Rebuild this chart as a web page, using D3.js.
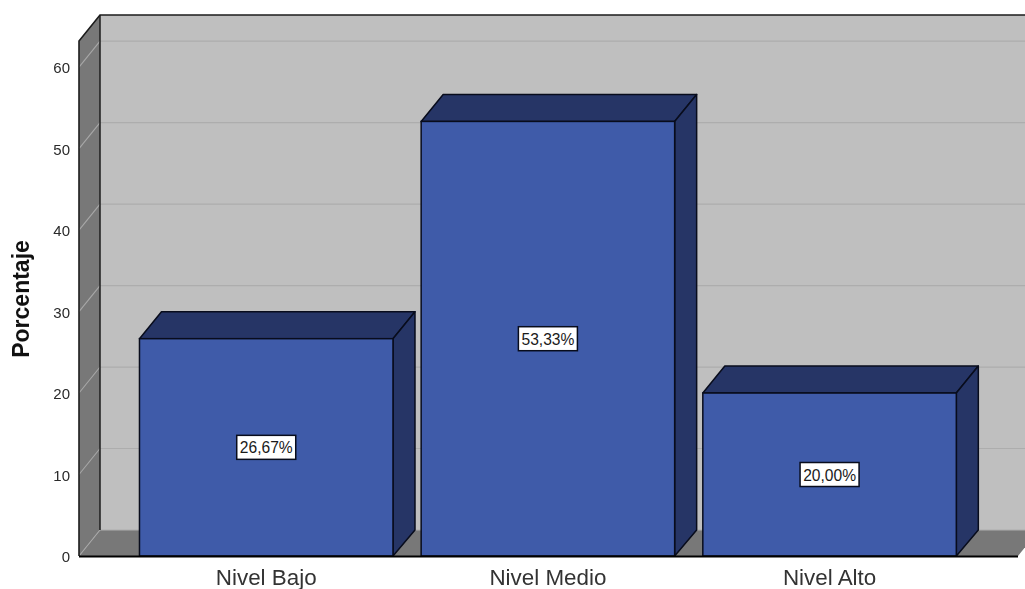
<!DOCTYPE html>
<html><head><meta charset="utf-8">
<script src="https://cdn.jsdelivr.net/npm/d3@7"></script>
<style>html,body{margin:0;padding:0;background:#fff;overflow:hidden}svg{display:block;filter:blur(0.45px)}text{font-family:"Liberation Sans",Arial,sans-serif}</style>
</head><body><svg id="c" width="1025" height="589"></svg>
<script>
const categories = ["Nivel Bajo","Nivel Medio","Nivel Alto"];
const values = [26.67,53.33,20.00];
const valueLabels = ["26,67%","53,33%","20,00%"];
const yTicks = [0,10,20,30,40,50,60];
const yTitle = "Porcentaje";

const W=1025,dx=21,dy=-26,bdx=22,bdy=-27,y0=556,yTop=41,xL=79,xR=1018;
const svg=d3.select("#c");
const y=d3.scaleLinear().domain([0,63.2]).range([y0,yTop]);
const x=d3.scaleBand().domain(categories).range([125.4,970.4]).paddingInner(0.1).paddingOuter(0.05);
const line=d3.line();
const poly=(g,pts,fill)=>g.append("path").attr("d",line(pts)+"Z").attr("fill",fill);

const walls=svg.append("g");
poly(walls,[[xL+dx,yTop+dy],[xR+dx+40,yTop+dy],[xR+dx+40,y0+dy],[xL+dx,y0+dy]],"#bfbfbf");
poly(walls,[[xL,yTop],[xL+dx,yTop+dy],[xL+dx,y0+dy],[xL,y0]],"#787878");
poly(walls,[[xL,y0],[xL+dx,y0+dy],[xR+dx,y0+dy],[xR,y0]],"#787878");

const grid=svg.append("g");
grid.selectAll("line.b").data(yTicks).join("line").attr("class","b")
  .attr("x1",xL+dx).attr("x2",W).attr("y1",d=>y(d)+dy).attr("y2",d=>y(d)+dy)
  .attr("stroke","#adadad").attr("stroke-width",1.2);
grid.selectAll("line.s").data(yTicks).join("line").attr("class","s")
  .attr("x1",xL).attr("x2",xL+dx).attr("y1",d=>y(d)).attr("y2",d=>y(d)+dy)
  .attr("stroke","#a8a8a8").attr("stroke-width",1.1);

const fr=svg.append("g").attr("fill","none").attr("stroke","#1c1c1c");
fr.append("path").attr("d",line([[W,yTop+dy],[xL+dx,yTop+dy],[xL,yTop],[xL,y0]])).attr("stroke-width",1.6);
fr.append("path").attr("d",line([[xL+dx,yTop+dy],[xL+dx,y0+dy]])).attr("stroke-width",1.5);

const rows=categories.map((c,i)=>({c,v:values[i],l:valueLabels[i]}));
const bars=svg.append("g").selectAll("g").data(rows).join("g");
const bw=x.bandwidth();
const edge="#080c1c";
bars.append("path").attr("d",d=>{const a=x(d.c),t=y(d.v);return line([[a,t],[a+bdx,t+bdy],[a+bw+bdx,t+bdy],[a+bw,t]])+"Z";})
  .attr("fill","#263566").attr("stroke",edge).attr("stroke-width",1.5).attr("stroke-linejoin","round");
bars.append("path").attr("d",d=>{const a=x(d.c)+bw,t=y(d.v);return line([[a,t],[a+bdx,t+bdy],[a+bdx,y0+dy],[a,y0]])+"Z";})
  .attr("fill","#263566").attr("stroke",edge).attr("stroke-width",1.5).attr("stroke-linejoin","round");
bars.append("rect").attr("x",d=>x(d.c)).attr("y",d=>y(d.v)).attr("width",bw).attr("height",d=>y0-y(d.v))
  .attr("fill","#3f5ba9").attr("stroke",edge).attr("stroke-width",1.5);

svg.append("line").attr("x1",xL).attr("x2",xR).attr("y1",y0+0.5).attr("y2",y0+0.5).attr("stroke","#000").attr("stroke-width",2.2);

const lab=bars.append("g").attr("transform",d=>`translate(${x(d.c)+bw/2},${(y(d.v)+y0)/2})`);
lab.append("rect").attr("x",-29.5).attr("y",-12).attr("width",59).attr("height",24).attr("fill","#fff").attr("stroke",edge).attr("stroke-width",1.5);
lab.append("text").attr("text-anchor","middle").attr("y",6).attr("font-size",15.6).attr("fill","#1a1a1a").text(d=>d.l);

const ya=d3.axisLeft(y).tickValues(yTicks).tickSize(0).tickPadding(9);
const yg=svg.append("g").attr("transform",`translate(${xL},0.7)`).call(ya);
yg.select(".domain").remove();
yg.selectAll("text").attr("font-size",15).attr("fill","#2a2a2a").style("font-family",'"Liberation Sans",Arial,sans-serif');

const xa=d3.axisBottom(x).tickSize(0).tickPadding(13.5);
const xg=svg.append("g").attr("transform",`translate(0,${y0})`).call(xa);
xg.select(".domain").remove();
xg.selectAll("text").attr("font-size",22.4).attr("fill","#333").style("font-family",'"Liberation Sans",Arial,sans-serif');

svg.append("text").attr("transform","translate(29,299) rotate(-90)").attr("text-anchor","middle")
  .attr("font-size",23).attr("font-weight","bold").attr("fill","#111").text(yTitle);
</script></body></html>
